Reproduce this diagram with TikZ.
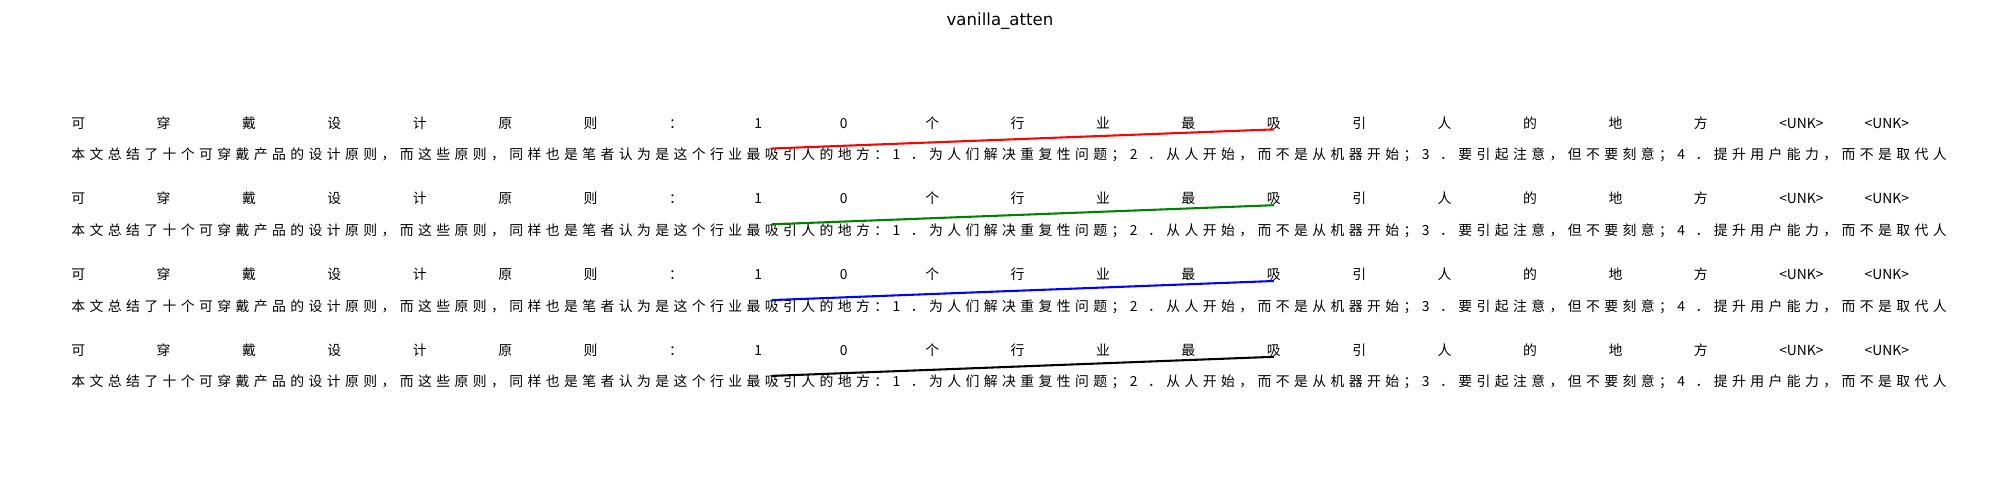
\documentclass[tikz,border=0pt]{standalone}
\usepackage{fontspec}
\setmainfont{DejaVu Sans}
\newfontfamily\cjk{Noto Sans CJK SC}
\definecolor{mplgreen}{rgb}{0,0.5,0}
\tikzset{
  token/.style={anchor=base west, inner sep=0pt, font=\cjk\fontsize{10}{12}\selectfont},
  attn/.style={line width=1.5pt}
}
\begin{document}
\begin{tikzpicture}[x=0.01in, y=-0.01in]
\useasboundingbox (0,0) rectangle (2000,500);
\node[anchor=base, font=\fontsize{12}{14}\selectfont] (title) at (1000,25) {vanilla\_atten};
% one query row and one key row per colour
\foreach \row/\col in {0/red, 1/mplgreen, 2/blue, 3/black} {
  \foreach \t [count=\i] in {可,穿,戴,设,计,原,则,：,1,0,个,行,业,最,吸,引,人,的,地,方,<UNK>,<UNK>} {
    \node[token] (q\row-\i) at ({71+(\i-1)*85.4}, {128+75.8*\row}) {\t};
  }
  \foreach \t [count=\j] in {本,文,总,结,了,十,个,可,穿,戴,产,品,的,设,计,原,则,，,而,这,些,原,则,，,同,样,也,是,笔,者,认,为,是,这,个,行,业,最,吸,引,人,的,地,方,：,1,．,为,人,们,解,决,重,复,性,问,题,；,2,．,从,人,开,始,，,而,不,是,从,机,器,开,始,；,3,．,要,引,起,注,意,，,但,不,要,刻,意,；,4,．,提,升,用,户,能,力,，,而,不,是,取,代,人} {
    \node[token] (k\row-\j) at ({71+(\j-1)*18.25}, {159.5+75.8*\row}) {\t};
  }
  \draw[attn, \col] (q\row-15.south) -- (k\row-39.north);
}
\end{tikzpicture}
\end{document}
